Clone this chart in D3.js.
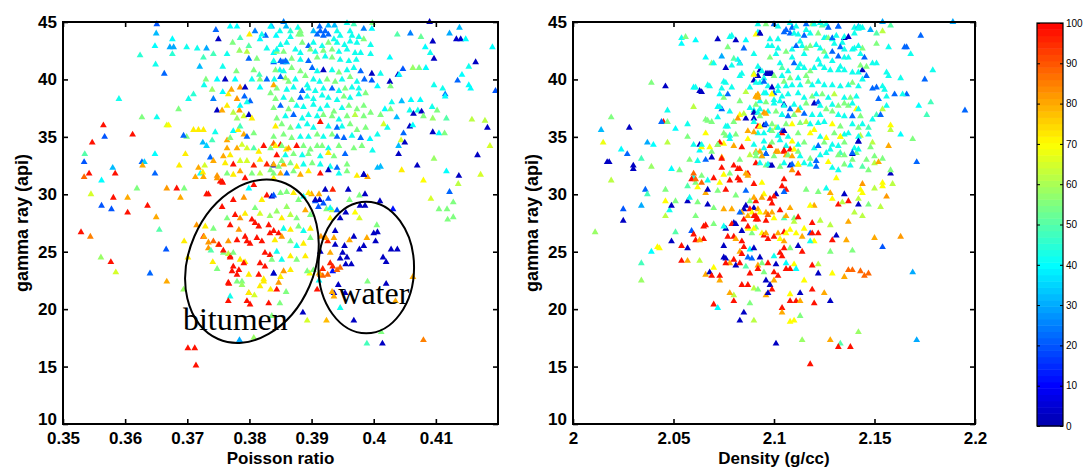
<!DOCTYPE html>
<html>
<head>
<meta charset="utf-8">
<script src="https://cdn.jsdelivr.net/npm/d3@7"></script>
<style>
  body { margin: 0; background: #fff; }
  text { font-family: "Liberation Sans", Arial, sans-serif; }
</style>
</head>
<body>
<script>
// tick values
const gammaTicks = [10, 15, 20, 25, 30, 35, 40, 45];
const poissonTicks = [0.35, 0.36, 0.37, 0.38, 0.39, 0.4, 0.41];
const densityTicks = [2, 2.05, 2.1, 2.15, 2.2];
const colorTicks = [0, 10, 20, 30, 40, 50, 60, 70, 80, 90, 100];

// [poisson ratio, gamma ray, colour value]
const poissonPts = [
[0.3651,44.8,20],[0.3650,44.0,32],[0.3648,42.9,40],[0.3649,41.3,42],[0.3663,40.5,22],[0.3624,42.1,45],[0.3676,43.5,40],[0.3672,42.8,30],[0.3678,42.8,30],[0.3676,42.2,45],
[0.3699,42.8,42],[0.3716,42.7,42],[0.3731,42.7,30],[0.3720,41.1,32],[0.3746,44.3,22],[0.3750,43.5,3],[0.3769,44.6,40],[0.3780,44.6,40],[0.3800,43.9,72],[0.3809,44.2,25],
[0.3826,43.8,22],[0.3817,43.5,40],[0.3836,44.6,30],[0.3855,45.0,25],[0.3859,44.6,32],[0.3849,44.2,42],[0.3866,44.2,45],[0.3878,44.5,42],[0.3883,43.9,55],[0.3903,44.2,32],
[0.3913,44.6,22],[0.3927,44.7,32],[0.3937,44.7,32],[0.3957,44.9,42],[0.3968,44.8,48],[0.3984,44.4,25],[0.3997,44.4,40],[0.3998,44.9,55],[0.4090,45.0,3],[0.4038,43.9,50],
[0.4059,44.0,25],[0.4076,43.7,52],[0.4122,44.0,30],[0.4138,44.5,32],[0.4133,43.5,4],[0.4140,43.5,4],[0.4148,43.5,40],[0.4191,42.8,40],[0.4095,43.3,3],[0.4083,42.8,40],
[0.4091,42.3,42],[0.4097,41.8,3],[0.4084,41.0,40],[0.4073,41.0,55],[0.4063,41.0,58],[0.4047,40.9,20],[0.4039,40.4,3],[0.4026,41.9,40],[0.4011,40.5,42],[0.3997,40.5,3],
[0.3997,39.9,20],[0.4006,39.4,40],[0.4026,39.8,3],[0.4027,39.4,55],[0.4041,40.4,40],[0.4075,38.2,40],[0.4097,39.5,42],[0.4111,39.2,42],[0.4115,38.7,25],[0.4115,38.5,40],
[0.4135,39.9,22],[0.4153,39.5,40],[0.4156,39.2,40],[0.4164,41.5,3],[0.4153,41.1,42],[0.4142,40.4,40],[0.4196,39.0,20],[0.4060,38.2,40],[0.4045,38.1,32],[0.4029,38.0,42],
[0.4071,37.3,42],[0.4058,37.3,42],[0.4077,37.2,3],[0.4064,37.0,3],[0.4080,36.8,55],[0.4094,37.6,42],[0.4102,37.3,55],[0.4095,36.6,58],[0.4117,36.6,50],[0.4158,36.5,62],
[0.4179,36.4,62],[0.4183,35.8,3],[0.4058,35.9,3],[0.4063,36.0,40],[0.4048,35.3,22],[0.4095,35.4,3],[0.4105,35.3,40],[0.4114,35.3,55],[0.4044,34.7,65],[0.4050,34.5,3],
[0.4040,34.2,32],[0.4040,33.5,3],[0.4011,36.9,55],[0.4018,37.4,40],[0.4027,37.4,55],[0.4037,36.7,32],[0.4016,36.1,65],[0.4022,35.8,42],[0.4006,35.2,42],[0.3998,33.8,42],
[0.3994,34.8,40],[0.4167,33.4,3],[0.4187,34.2,65],[0.4172,31.7,65],[0.4137,31.6,3],[0.4117,32.0,40],[0.4122,30.2,22],[0.4136,30.9,62],[0.4128,29.3,55],[0.4119,27.8,55],
[0.4105,28.7,55],[0.4118,28.7,55],[0.4128,28.0,55],[0.4092,29.6,65],[0.4080,31.2,70],[0.4070,32.5,3],[0.4045,32.1,72],[0.4097,33.1,58],[0.4006,32.3,32],[0.4011,32.4,32],
[0.3990,31.5,80],[0.3984,31.7,3],[0.4080,17.3,85],[0.4063,22.8,80],
[0.4010,29.4,3],[0.4031,28.7,12],[0.3978,29.0,3],[0.3986,29.0,3],[0.3986,30.0,3],[0.3977,29.9,55],[0.3959,30.4,3],[0.3961,29.5,55],[0.3970,28.4,70],[0.3977,27.9,65],
[0.4005,27.3,55],[0.4006,26.7,3],[0.4000,26.6,3],[0.3989,26.2,80],[0.4003,25.9,3],[0.3968,26.3,3],[0.3961,26.0,80],[0.3953,25.5,3],[0.3984,25.5,3],[0.3977,25.2,3],
[0.4028,25.2,3],[0.4038,25.2,3],[0.4015,24.5,3],[0.4020,24.1,3],[0.3938,25.6,3],[0.3950,24.9,3],[0.3957,24.5,3],[0.3946,24.4,3],[0.3964,23.9,3],[0.3955,23.9,3],
[0.3938,26.8,3],[0.3946,27.9,3],[0.3914,25.0,3],[0.3930,24.9,80],[0.3934,23.3,12],[0.3941,23.4,88],[0.3946,23.6,88],[0.3930,24.0,96],[0.3934,23.7,96],[0.3926,23.0,88],
[0.3914,23.0,88],[0.3918,22.9,88],[0.3943,22.1,3],[0.4020,22.2,3],[0.3936,21.4,3],[0.3933,21.5,80],[0.3936,21.1,80],[0.3954,21.4,3],[0.3946,20.1,42],[0.3990,22.4,55],
[0.3968,19.0,3],[0.4012,18.0,55],[0.3989,17.0,48],[0.4014,17.0,3],[0.4035,20.7,80],[0.3924,19.0,78],[0.3893,19.0,65],[0.3886,19.7,3],[0.3909,21.7,98],[0.3912,22.5,40],
[0.3897,23.1,70],[0.3912,23.1,80],[0.3918,23.5,96],[0.3903,23.4,55],[0.3936,26.2,80],[0.3926,25.9,96],[0.3923,26.2,82],[0.3915,26.3,82],[0.3933,28.6,62],[0.3930,27.9,70],
[0.3924,28.7,55],[0.3913,29.5,3],[0.3906,29.4,20],[0.3900,30.0,80],[0.3934,30.4,96],[0.3922,30.4,3],[0.3912,30.0,80],[0.3927,29.6,20],
[0.3590,38.3,42],[0.3627,36.7,55],[0.3651,36.7,42],[0.3686,37.4,55],[0.3702,38.3,42],[0.3710,38.7,45],[0.3667,36.0,65],[0.3670,36.0,70],[0.3565,36.0,98],[0.3567,35.0,20],
[0.3547,34.5,98],[0.3535,33.5,50],[0.3534,32.8,20],[0.3542,31.8,98],[0.3534,31.5,88],[0.3545,30.0,65],[0.3562,29.0,20],[0.3578,28.7,20],[0.3581,29.7,98],[0.3584,31.8,98],
[0.3580,32.3,32],[0.3562,31.2,40],[0.3612,35.2,98],[0.3604,29.7,80],[0.3604,28.4,98],[0.3619,30.5,55],[0.3636,29.0,98],[0.3627,32.8,22],[0.3631,32.8,35],[0.3628,32.5,80],
[0.3648,33.5,40],[0.3648,31.8,22],[0.3650,28.0,80],[0.3655,26.9,50],[0.3529,26.7,98],[0.3544,26.3,85],[0.3667,30.5,82],[0.3683,30.5,98],[0.3695,30.5,55],[0.3687,32.5,72],
[0.3697,33.5,72],[0.3699,35.0,55],[0.3694,35.1,22],[0.3689,29.7,80],[0.3710,35.6,72],[0.3718,35.6,72],[0.3726,35.6,72],[0.3725,34.5,32],[0.3731,34.2,35],[0.3737,33.2,22],
[0.3721,31.8,40],[0.3725,31.9,72],[0.3728,32.5,65],[0.3726,31.5,80],[0.3713,31.5,80],[0.3718,32.3,80],[0.3734,30.0,98],[0.3748,31.6,82],[0.3753,31.1,98],[0.3757,31.0,98],
[0.3748,37.3,3],[0.3756,37.3,80],[0.3742,38.3,25],[0.3757,38.9,40],[0.3766,38.7,72],[0.3771,39.1,80],[0.3748,40.0,40],[0.3761,40.0,3],[0.3777,40.0,40],[0.3779,40.7,55],
[0.3780,38.3,82],[0.3784,37.3,82],[0.3785,37.7,40],[0.3792,38.5,22],[0.3801,38.1,22],[0.3796,38.0,42],[0.3785,39.3,82],[0.3793,39.3,3],[0.3804,40.0,42],[0.3817,40.0,55],
[0.3816,40.4,48],[0.3807,40.8,55],[0.3828,40.0,22],[0.3839,39.5,80],[0.3834,38.8,55],[0.3817,39.3,40],[0.3858,40.1,58],[0.3849,40.8,42],[0.3839,41.5,22],[0.3854,41.5,22],
[0.3860,41.5,30],[0.3839,42.3,40],[0.3844,42.4,55],[0.3828,42.7,42],[0.3812,41.8,55],[0.3799,41.8,22],[0.3796,42.4,62],[0.3799,42.9,50],[0.3784,42.5,58],[0.3785,43.6,48],
[0.3834,44.6,40],[0.3820,43.9,42],[0.3843,43.8,40],[0.3764,34.7,80],[0.3769,34.9,55],[0.3774,35.5,40],[0.3782,35.6,72],[0.3785,35.9,48],[0.3791,35.2,80],[0.3796,35.0,22],
[0.3807,35.3,55],[0.3780,36.6,58],[0.3791,36.8,65],[0.3799,36.9,3],[0.3804,36.6,72],[0.3764,34.0,80],[0.3769,33.4,72],[0.3780,34.0,80],[0.3788,34.3,65],[0.3796,34.0,65],
[0.3807,34.0,50],[0.3815,33.7,72],[0.3823,34.2,98],[0.3834,34.0,55],[0.3839,34.4,88],[0.3850,34.3,98],[0.3859,33.9,72],[0.3742,32.9,80],[0.3758,33.3,80],[0.3761,32.7,72],
[0.3774,32.6,98],[0.3785,32.9,65],[0.3796,32.9,65],[0.3807,32.5,96],[0.3817,33.0,72],[0.3828,32.6,96],[0.3838,32.5,3],[0.3847,32.4,55],[0.3855,32.6,80],[0.3764,31.8,55],
[0.3774,31.7,72],[0.3785,32.0,80],[0.3793,31.4,98],[0.3804,31.8,55],[0.3817,31.8,62],[0.3834,32.1,55],[0.3839,31.4,72],[0.3726,41.9,48],[0.3742,42.2,48],[0.3764,42.2,42],
[0.3773,43.2,55],[0.3757,41.1,42],[0.3730,40.0,55],[0.3740,39.1,58],[0.3727,39.5,42],[0.3764,37.7,72],[0.3774,37.1,62],[0.3745,35.4,42],[0.3740,34.7,48],
[0.3882,44.2,55],[0.3914,44.2,22],[0.3922,44.2,22],[0.3941,44.2,42],[0.3962,44.2,42],
[0.3866,43.7,42],[0.3879,43.9,55],[0.3909,43.9,22],[0.3919,43.8,22],[0.3927,43.9,22],[0.3936,43.5,42],[0.3946,43.8,42],[0.3965,43.8,42],[0.3976,43.7,42],[0.3984,43.5,55],
[0.3995,43.0,42],[0.3850,43.0,42],[0.3860,43.2,42],[0.3885,43.2,55],[0.3895,42.9,22],[0.3903,43.2,42],[0.3917,42.9,42],[0.3927,43.2,55],[0.3941,43.2,42],[0.3953,43.0,42],
[0.3962,43.3,42],[0.3973,43.2,42],
[0.3844,42.6,42],[0.3855,42.4,55],[0.3874,42.6,42],[0.3882,42.3,42],[0.3898,42.6,55],[0.3906,42.4,42],[0.3919,42.5,55],[0.3933,42.6,55],[0.3944,42.4,42],[0.3957,42.6,42],
[0.3970,42.3,42],[0.3979,42.3,42],[0.3995,42.2,42],[0.3839,41.6,42],[0.3850,41.6,22],[0.3858,41.6,22],[0.3868,41.8,55],[0.3882,41.7,42],[0.3895,41.6,22],[0.3909,41.9,55],
[0.3922,42.0,42],[0.3933,41.9,55],[0.3946,41.7,42],[0.3960,41.6,42],[0.3972,41.7,42],
[0.3842,40.8,55],[0.3855,40.7,42],[0.3868,41.0,55],[0.3882,40.7,55],[0.3890,40.3,55],[0.3901,41.0,22],[0.3909,40.7,42],[0.3919,40.8,3],[0.3933,40.8,42],[0.3944,40.6,55],
[0.3957,40.8,42],[0.3968,41.0,42],[0.3979,40.7,22],[0.3840,40.0,42],[0.3850,40.2,22],[0.3863,39.8,55],[0.3874,40.0,42],[0.3893,39.5,42],[0.3903,40.0,42],[0.3913,39.8,42],
[0.3925,40.0,55],[0.3938,39.8,55],[0.3949,40.0,42],[0.3962,40.2,55],[0.3973,39.8,42],[0.3985,40.0,22],
[0.3844,39.2,55],[0.3860,39.1,42],[0.3871,39.3,42],[0.3885,39.0,22],[0.3895,39.2,42],[0.3906,39.0,42],[0.3919,39.2,42],[0.3933,39.2,22],[0.3944,39.0,42],[0.3954,39.2,55],
[0.3965,39.3,42],[0.3976,39.2,42],[0.3987,38.8,55],[0.3842,38.3,55],[0.3855,38.4,42],[0.3868,38.2,55],[0.3882,38.4,22],[0.3893,38.5,42],[0.3903,38.3,42],[0.3917,38.6,42],
[0.3927,38.4,42],[0.3941,38.2,42],[0.3952,38.5,55],[0.3962,38.4,42],[0.3976,38.7,42],
[0.3839,37.5,55],[0.3850,37.7,22],[0.3863,37.4,55],[0.3876,37.7,42],[0.3887,37.6,42],[0.3903,37.8,42],[0.3914,37.4,42],[0.3925,37.7,42],[0.3936,37.2,55],[0.3949,37.5,42],
[0.3960,37.7,55],[0.3973,37.4,55],[0.3984,37.7,55],[0.3844,36.6,55],[0.3858,36.8,42],[0.3871,36.9,22],[0.3885,36.6,42],[0.3895,36.9,42],[0.3909,36.8,42],[0.3919,36.9,55],
[0.3933,36.8,55],[0.3944,36.5,42],[0.3957,36.8,55],[0.3970,36.9,62],[0.3984,36.8,55],[0.3995,37.1,55],
[0.3842,35.9,72],[0.3852,36.1,55],[0.3866,35.8,55],[0.3879,35.9,42],[0.3893,36.1,42],[0.3903,35.8,42],[0.3914,36.3,98],[0.3927,35.9,42],[0.3941,35.8,22],[0.3949,35.9,42],
[0.3962,36.1,55],[0.3973,35.6,55],[0.3987,35.8,55],[0.3839,35.0,55],[0.3855,35.2,55],[0.3868,34.9,55],[0.3882,35.0,42],[0.3895,35.0,42],[0.3909,35.2,55],[0.3919,35.0,42],
[0.3933,35.2,55],[0.3941,35.0,22],[0.3952,34.9,22],[0.3965,35.1,42],[0.3979,34.9,22],
[0.3842,34.2,72],[0.3852,34.2,55],[0.3863,34.0,80],[0.3876,34.2,98],[0.3887,34.2,55],[0.3898,33.9,55],[0.3909,34.2,55],[0.3917,34.2,55],[0.3927,34.0,42],[0.3944,34.2,55],
[0.3954,33.5,22],[0.3968,34.0,55],[0.3981,34.2,55],[0.3844,33.4,98],[0.3858,33.4,42],[0.3871,33.5,55],[0.3885,33.4,42],[0.3895,33.5,55],[0.3914,33.3,42],[0.3927,33.6,72],
[0.3936,33.3,55],
[0.3839,32.6,80],[0.3852,32.9,55],[0.3866,32.7,55],[0.3876,32.4,72],[0.3887,32.6,42],[0.3901,32.7,55],[0.3914,32.6,42],[0.3930,32.4,42],[0.3941,32.3,22],[0.3957,32.6,55],
[0.3839,31.8,55],[0.3850,31.8,80],[0.3860,31.8,22],[0.3871,32.0,55],[0.3882,31.7,80],[0.3895,32.0,72],[0.3914,31.8,98],[0.3927,32.1,3],[0.3944,31.8,42],[0.3957,32.0,55],
[0.3973,31.6,72],[0.3984,31.7,3],
[0.3756,31.1,98],[0.3748,31.4,82],[0.3731,30.0,98],[0.3774,29.5,98],[0.3791,29.7,82],[0.3799,30.5,40],[0.3807,30.8,98],[0.3820,29.5,72],[0.3828,29.9,98],[0.3836,29.8,3],
[0.3839,29.9,20],[0.3850,30.1,55],[0.3860,30.2,55],[0.3871,30.1,72],[0.3879,29.5,55],[0.3887,29.8,42],[0.3895,30.1,72],[0.3906,29.5,3],[0.3911,28.9,20],[0.3919,29.2,20],
[0.3930,28.8,42],[0.3941,28.6,20],[0.3955,28.4,3],[0.3756,28.9,98],[0.3764,27.9,55],[0.3777,28.2,98],[0.3785,27.9,82],[0.3793,28.3,72],[0.3809,28.8,55],[0.3817,28.3,65],
[0.3833,28.1,58],[0.3844,28.5,58],[0.3852,27.9,72],[0.3860,28.9,58],[0.3866,28.2,62],[0.3876,27.9,55],[0.3890,28.6,80],[0.3898,28.2,55],[0.3715,27.3,82],[0.3729,27.2,72],
[0.3742,27.0,55],[0.3769,27.3,98],[0.3783,26.9,82],[0.3804,27.8,98],[0.3809,27.5,98],[0.3815,27.2,98],[0.3831,27.3,98],[0.3839,26.8,98],[0.3847,26.6,98],[0.3855,27.0,42],
[0.3866,26.9,72],[0.3879,27.2,55],[0.3887,26.8,42],[0.3898,27.0,72],[0.3726,26.3,98],[0.3742,25.9,88],[0.3750,25.6,82],[0.3766,25.9,82],[0.3780,26.0,98],[0.3793,26.3,98],
[0.3796,25.9,98],[0.3801,25.7,98],[0.3812,26.2,98],[0.3820,25.9,98],[0.3833,26.6,98],[0.3841,26.0,72],[0.3852,26.3,82],[0.3866,25.9,55],[0.3876,25.5,42],[0.3887,25.7,72],
[0.3898,26.2,55],[0.3734,25.3,82],[0.3758,24.9,55],[0.3769,24.6,98],[0.3785,24.3,72],[0.3793,24.1,72],[0.3791,24.0,98],[0.3774,23.7,98],[0.3783,23.4,98],[0.3772,23.3,98],
[0.3780,23.0,98],[0.3766,22.3,98],[0.3788,22.4,55],[0.3799,23.0,72],[0.3815,23.0,98],[0.3817,24.0,98],[0.3825,24.9,98],[0.3833,24.7,98],[0.3825,23.7,98],[0.3823,22.4,72],
[0.3839,23.1,20],[0.3836,24.3,55],[0.3844,25.0,42],[0.3852,24.3,42],[0.3866,24.6,72],[0.3876,24.3,55],[0.3890,24.6,72],[0.3893,23.3,55],[0.3866,23.4,72],[0.3855,23.3,82],
[0.3847,22.3,82],[0.3799,21.4,82],[0.3769,21.1,42],
[0.3561,24.5,58],[0.3577,24.1,98],[0.3585,23.2,65],[0.3640,23.1,22],[0.3666,25.2,20],[0.3667,22.4,80],[0.3695,25.9,72],[0.3701,24.5,72],[0.3694,21.7,58],[0.3701,16.6,98],
[0.3712,16.6,98],[0.3714,15.1,98],[0.3727,26.3,80],[0.3734,25.8,82],[0.3738,25.1,50],[0.3741,24.1,72],[0.3748,23.5,55],[0.3751,25.6,98],[0.3758,25.1,98],[0.3766,24.8,62],
[0.3769,24.5,98],[0.3774,24.9,55],[0.3767,22.2,98],[0.3766,20.7,98],[0.3780,22.4,55],[0.3788,22.1,58],[0.3784,17.3,30],[0.3796,20.7,98],[0.3801,20.4,98],[0.3799,21.4,72],
[0.3808,21.2,65],[0.3817,22.0,72],[0.3807,17.5,58],[0.3823,22.6,72],[0.3831,20.5,98],[0.3834,21.7,72],[0.3839,23.1,3],[0.3836,19.4,55],[0.3844,21.7,98],[0.3850,22.8,72],
[0.3849,20.5,55],[0.3859,21.5,55]
];

// [density, gamma ray, colour value]
const densityPts = [
[2.011,26.7,58],[2.014,35.6,32],[2.015,34.5,68],[2.017,32.8,3],[2.018,32.8,3],[2.019,31.2,62],[2.019,36.7,55],[2.024,33.9,40],[2.027,33.5,22],[2.028,35.8,3],
[2.030,32.2,3],[2.030,32.5,3],[2.025,28.7,20],[2.025,27.7,3],[2.034,33.1,48],[2.036,30.4,22],[2.037,30.0,48],[2.034,29.0,30],[2.037,34.5,30],[2.040,34.3,40],
[2.039,32.4,58],[2.034,24.0,48],[2.034,22.5,58],[2.039,25.0,40],[2.042,25.4,70],[2.043,25.3,70],[2.039,39.7,55],[2.046,39.4,3],[2.045,36.3,98],[2.044,36.3,22],
[2.047,36.3,55],[2.047,37.3,42],[2.047,34.5,62],[2.046,30.4,55],[2.046,29.4,70],[2.046,28.1,62],[2.049,25.9,3],[2.049,32.2,40],[2.051,35.7,40],[2.051,29.4,55],
[2.048,28.6,42],[2.049,29.0,3],[2.051,26.7,50],[2.054,25.5,98],[2.054,24.2,98],[2.057,24.2,80],[2.057,25.3,3],[2.054,43.6,42],[2.056,43.7,55],[2.061,43.4,40],
[2.054,43.1,40],[2.057,35.0,55],[2.057,36.1,42],[2.053,32.1,55],[2.057,30.7,50],[2.057,29.4,3],[2.059,26.8,20],[2.060,26.5,98],[2.061,26.0,98],[2.060,31.5,42],
[2.060,31.8,88],[2.061,31.0,55],[2.064,31.0,88],[2.066,30.1,80],[2.063,34.3,3],[2.063,33.8,40],[2.064,34.1,70],[2.060,39.3,40],[2.063,39.0,3],[2.066,41.9,40],
[2.060,37.6,62],[2.066,36.5,55],[2.067,39.5,42],[2.066,27.3,98],[2.065,26.1,98],[2.063,26.0,80],[2.066,23.0,80],[2.063,24.2,62],[2.068,23.2,3],[2.069,22.9,98],
[2.070,20.4,98],[2.072,20.1,40],[2.070,23.6,70],[2.073,22.5,80],[2.073,22.9,98],[2.072,43.5,3],[2.074,42.0,30],[2.076,41.0,3],[2.069,41.4,55],[2.074,37.4,22],
[2.072,37.6,40],[2.073,38.7,40],[2.074,39.2,42],[2.077,38.7,22],[2.075,39.8,42],[2.077,42.8,55],[2.078,43.7,42],[2.079,43.8,42],[2.081,43.4,3],[2.085,42.7,22],
[2.082,41.7,40],[2.083,41.4,22],[2.086,43.4,40],[2.084,40.5,42],[2.090,40.5,55],[2.090,39.9,3],[2.092,40.3,3],[2.093,40.8,3],[2.096,40.5,3],[2.098,40.5,3],
[2.093,44.0,3],[2.092,44.1,40],[2.086,38.9,62],[2.088,39.3,42],[2.091,38.5,82],[2.092,38.5,82],[2.096,38.8,40],[2.099,38.7,70],[2.097,37.2,42],[2.095,37.1,82],
[2.093,37.4,42],[2.090,37.3,42],[2.086,36.6,3],[2.090,36.6,3],[2.092,35.9,98],[2.095,36.0,3],[2.098,35.6,42],[2.101,35.8,62],[2.104,35.5,22],[2.104,35.3,98],
[2.100,38.8,22],[2.105,37.8,3],[2.100,38.2,42],[2.104,36.9,42],[2.083,36.9,70],[2.082,36.6,82],[2.080,36.3,55],[2.077,35.9,42],[2.075,35.3,55],[2.078,34.8,42],
[2.075,34.4,70],[2.073,34.5,98],[2.072,34.3,80],[2.069,33.7,55],[2.069,33.2,3],[2.074,33.2,80],[2.080,32.5,98],[2.082,32.2,98],[2.083,32.2,98],[2.074,32.3,98],
[2.075,31.7,70],[2.078,31.8,55],[2.087,31.8,98],[2.086,31.8,80],[2.088,33.4,62],[2.091,33.7,80],[2.093,33.7,80],[2.096,33.5,3],[2.095,34.0,42],[2.098,34.2,96],
[2.101,33.7,82],[2.098,32.5,3],[2.096,32.5,55],[2.105,33.7,98],[2.108,32.5,3],[2.109,32.1,82],[2.112,31.8,98],[2.108,33.9,98],[2.106,33.4,80],[2.110,33.9,70],
[2.112,32.6,80],[2.105,31.3,98],[2.104,30.7,98],[2.106,30.4,98],[2.105,30.2,22],[2.101,30.0,3],[2.100,29.8,98],[2.098,29.6,98],[2.099,29.2,98],[2.095,30.0,70],
[2.094,29.7,80],[2.091,29.4,98],[2.088,29.4,55],[2.086,29.0,3],[2.085,28.7,3],[2.084,28.4,80],[2.090,28.8,3],[2.092,28.7,80],[2.088,28.7,98],[2.089,28.4,70],
[2.093,28.4,70],[2.096,28.4,80],[2.097,28.2,88],[2.099,28.4,80],[2.085,27.8,98],[2.090,28.1,98],[2.091,27.8,98],[2.092,27.8,98],[2.096,27.7,98],[2.100,27.9,70],
[2.103,28.6,98],[2.105,27.9,50],[2.106,28.1,80],[2.110,27.9,55],[2.112,28.0,98],[2.110,27.6,62],[2.108,28.8,80],[2.080,27.5,3],[2.076,27.0,3],[2.079,27.4,98],
[2.077,26.3,98],[2.080,26.3,98],[2.081,26.1,80],[2.084,26.8,3],[2.084,25.9,98],[2.085,25.4,98],[2.087,27.0,70],[2.089,26.6,55],[2.091,27.1,55],[2.094,26.6,70],
[2.095,26.4,98],[2.096,26.6,80],[2.097,26.1,98],[2.100,26.3,98],[2.102,26.6,80],[2.105,26.7,98],[2.106,26.6,70],[2.103,26.1,70],[2.105,25.9,80],[2.108,26.9,70],
[2.111,26.6,70],[2.114,26.3,80],[2.115,27.0,70],[2.118,26.6,20],[2.119,26.6,98],[2.122,26.6,98],[2.120,25.9,70],[2.118,25.9,42],[2.075,25.5,3],[2.075,24.5,3],
[2.076,24.4,3],[2.080,24.3,98],[2.078,24.0,80],[2.076,24.0,98],[2.081,23.8,3],[2.083,25.0,80],[2.084,24.8,98],[2.083,24.0,98],[2.086,23.7,50],[2.088,25.2,40],
[2.087,24.5,22],[2.089,24.4,22],[2.090,25.3,3],[2.093,24.5,3],[2.092,23.8,80],[2.094,24.0,55],[2.097,24.0,98],[2.100,24.6,42],[2.103,24.9,98],[2.104,24.6,98],
[2.101,23.9,3],[2.106,24.0,40],[2.105,25.3,98],[2.108,25.3,55],[2.112,25.5,3],[2.114,25.0,98],[2.110,23.9,70],[2.111,23.5,40],[2.106,23.5,98],[2.108,23.5,98],
[2.100,23.2,98],[2.102,22.9,98],[2.100,22.5,80],[2.096,22.5,3],[2.098,22.1,3],[2.092,23.5,98],[2.095,23.2,55],[2.088,23.1,98],[2.087,22.1,98],[2.084,22.1,98],
[2.090,21.8,62],[2.092,21.7,55],[2.096,21.2,80],[2.099,21.7,98],[2.097,21.4,3],[2.080,21.2,62],[2.078,21.4,80],[2.080,20.7,98],[2.088,20.5,55],[2.085,19.7,3],
[2.083,19.0,3],[2.090,19.0,62],[2.104,20.1,98],[2.104,19.7,80],[2.108,20.7,98],[2.108,21.3,70],[2.113,21.4,3],[2.111,20.7,98],[2.113,20.7,80],[2.115,22.5,70],
[2.108,18.9,70],[2.110,19.0,70],[2.113,19.4,55],[2.114,17.3,58],[2.101,17.0,3],[2.118,15.2,98],[2.119,21.7,98],[2.120,20.5,98],[2.122,23.1,3],[2.119,23.8,98],
[2.122,23.9,62],[2.125,21.4,80],[2.128,20.7,3],[2.128,25.0,55],[2.129,23.1,70],[2.129,26.0,98],[2.131,26.4,3],[2.128,27.3,62],[2.123,27.7,62],[2.119,27.5,98],
[2.120,29.0,80],[2.118,29.0,70],[2.116,30.4,55],[2.122,30.2,55],[2.126,30.5,42],[2.128,30.1,80],[2.129,29.6,70],[2.132,29.1,98],[2.135,30.0,3],[2.137,29.4,98],
[2.134,29.3,62],[2.131,31.4,70],[2.142,29.1,3],[2.143,30.4,70],[2.144,30.9,82],[2.144,30.1,70],[2.142,29.6,62],[2.140,28.4,62],[2.144,28.1,62],[2.147,29.1,55],
[2.156,29.8,82],[2.150,30.5,62],[2.154,30.7,70],[2.153,28.9,62],[2.137,27.6,80],[2.136,26.0,80],[2.139,25.1,55],[2.135,22.8,80],[2.137,23.4,88],[2.139,23.4,88],
[2.143,23.3,88],[2.145,22.9,88],[2.147,23.1,88],[2.150,26.2,80],[2.163,26.3,82],[2.154,25.4,20],[2.169,23.2,30],[2.171,17.3,30],[2.142,18.0,58],[2.128,17.3,80],
[2.133,17.0,50],[2.132,16.7,98],[2.138,16.7,98],[2.171,32.8,22],[2.158,31.8,3],[2.158,32.1,55],[2.154,31.0,70],[2.150,32.7,62],[2.152,32.8,80],[2.150,33.3,55],
[2.149,34.5,62],[2.154,33.1,55],[2.157,34.2,80],[2.158,35.6,62],[2.158,36.0,70],[2.163,35.2,40],[2.169,34.8,55],[2.172,37.7,40],[2.176,36.9,48],[2.178,38.0,48],
[2.179,40.8,42],[2.175,40.0,22],[2.173,43.8,22],[2.189,45.0,30],[2.195,37.3,22],[2.168,42.2,42],[2.165,42.8,22],[2.166,42.8,22],[2.157,42.8,42],[2.154,44.2,62],
[2.151,44.0,50],[2.154,45.0,30],[2.158,44.7,50],[2.151,43.1,55],[2.151,41.4,42],[2.156,40.6,42],[2.157,40.3,42],[2.163,40.1,42],[2.166,38.7,22],[2.164,38.7,42],
[2.160,38.7,22],[2.156,38.5,42],[2.155,39.1,42],[2.154,39.4,42],[2.151,39.3,22],[2.149,39.2,22],[2.152,38.3,22],[2.156,37.7,42],[2.154,37.4,62],[2.151,36.9,48],
[2.153,36.9,22],[2.149,36.5,42],[2.147,35.8,48],[2.144,36.1,42],[2.147,35.2,42],[2.143,35.1,62],[2.142,34.6,3],[2.140,34.0,42],[2.139,33.5,3],[2.138,32.5,42],
[2.135,35.2,42],[2.133,35.0,70],[2.133,33.6,48],[2.141,33.6,55],[2.148,34.1,55],[2.146,33.0,55],[2.147,32.1,55],[2.144,32.4,50],[2.159,30.9,62],[2.146,40.3,22],
[2.144,40.0,42],[2.144,40.8,3],[2.143,41.2,55],[2.146,41.1,55],[2.149,41.4,42],[2.145,41.9,22],[2.143,42.2,42],[2.140,42.7,42],[2.144,42.7,55],[2.140,44.5,42],
[2.142,44.6,30],[2.144,44.5,42],[2.148,44.3,30],[2.135,43.6,3],[2.134,43.2,42],[2.129,43.5,42],[2.126,43.6,42],[2.124,44.7,50],[2.126,44.8,42],[2.132,44.6,22],
[2.119,44.8,55],
[2.092,44.8,42],[2.096,44.8,55],[2.100,44.8,22],[2.102,44.6,42],[2.106,44.3,22],[2.108,44.9,42],[2.109,44.5,22],[2.111,44.6,42],[2.116,44.8,22],[2.116,44.3,42],
[2.120,44.8,42],[2.123,44.9,42],[2.127,44.5,22],[2.132,44.6,22],[2.142,44.5,42],[2.143,44.5,42],[2.091,43.9,70],[2.093,44.0,3],[2.098,43.5,42],[2.102,43.5,42],
[2.105,44.1,22],[2.108,44.0,22],[2.110,44.0,42],[2.112,43.9,42],[2.115,43.8,22],[2.118,44.0,42],[2.122,44.0,55],[2.125,43.6,42],[2.127,43.6,55],[2.129,43.6,22],
[2.131,43.8,42],[2.135,43.7,42],[2.137,43.7,3],[2.140,44.0,42],[2.142,44.4,42],
[2.090,42.2,42],[2.097,42.9,42],[2.099,42.9,42],[2.102,42.7,42],[2.106,42.4,55],[2.109,42.6,42],[2.111,42.9,22],[2.113,43.3,42],[2.114,42.9,42],[2.116,42.7,55],
[2.118,42.9,55],[2.121,43.0,42],[2.123,42.7,42],[2.125,42.4,55],[2.129,42.4,22],[2.133,42.8,22],[2.130,43.1,42],[2.135,42.6,42],[2.139,42.6,42],[2.142,42.9,42],
[2.098,41.9,55],[2.101,42.2,42],[2.109,41.9,42],[2.115,42.2,42],[2.122,41.7,42],[2.126,42.0,42],[2.129,41.6,42],[2.132,42.0,22],[2.135,41.9,42],[2.137,41.9,42],
[2.092,41.1,42],[2.094,40.7,42],[2.097,40.5,3],[2.099,40.5,3],[2.103,41.4,42],[2.104,41.0,50],[2.107,40.7,42],[2.110,41.4,22],[2.112,41.0,42],[2.113,41.3,42],
[2.115,41.0,42],[2.118,40.7,55],[2.120,41.0,42],[2.123,41.3,42],[2.125,41.0,42],[2.128,40.8,42],[2.132,40.8,42],[2.133,41.1,42],[2.135,40.8,42],[2.139,40.6,42],
[2.142,40.6,42],[2.090,40.4,70],[2.095,40.1,42],[2.100,40.3,55],[2.104,40.3,42],[2.108,40.1,55],[2.112,40.1,42],[2.116,40.3,55],
[2.091,39.7,42],[2.093,39.7,42],[2.095,39.8,22],[2.097,39.4,42],[2.099,39.3,3],[2.102,39.4,42],[2.105,39.8,55],[2.106,39.4,42],[2.109,39.5,42],[2.113,39.5,42],
[2.117,39.8,55],[2.119,39.5,42],[2.122,39.8,42],[2.125,39.5,42],[2.129,39.5,42],[2.133,39.4,42],[2.137,39.5,42],[2.139,39.7,55],[2.142,39.4,42],[2.091,38.5,80],
[2.092,38.7,80],[2.095,38.8,42],[2.099,38.7,70],[2.102,39.0,42],[2.104,38.5,42],[2.107,38.7,42],[2.112,38.8,42],[2.115,38.4,42],[2.119,38.5,55],[2.121,38.7,42],
[2.124,38.7,55],[2.127,38.4,42],[2.130,38.7,62],[2.135,38.4,42],[2.138,38.4,55],[2.141,38.5,42],
[2.091,37.8,55],[2.093,38.1,42],[2.096,38.0,55],[2.100,37.9,42],[2.103,38.1,42],[2.105,37.7,42],[2.108,37.4,22],[2.110,37.8,42],[2.113,37.5,42],[2.116,37.9,55],
[2.120,37.9,3],[2.122,38.0,22],[2.123,37.7,42],[2.126,37.4,55],[2.129,37.8,42],[2.132,37.7,55],[2.135,37.9,55],[2.137,37.7,55],[2.139,37.9,42],[2.141,37.4,70],
[2.142,37.4,42],[2.090,37.1,3],[2.092,37.1,42],[2.096,37.0,80],[2.101,37.2,55],[2.104,36.9,42],[2.107,36.8,22],[2.110,36.9,55],[2.112,37.3,80],[2.115,37.0,22],
[2.119,36.9,42],[2.123,36.9,42],[2.129,37.2,55],[2.132,36.9,42],[2.135,36.8,42],[2.139,36.8,22],[2.143,36.8,55],
[2.090,36.3,42],[2.093,35.9,70],[2.096,36.1,22],[2.099,36.1,55],[2.102,35.8,42],[2.105,35.5,3],[2.106,36.1,55],[2.109,36.1,70],[2.113,36.2,55],[2.116,36.3,62],
[2.118,36.1,42],[2.122,36.2,42],[2.125,36.3,42],[2.129,36.1,70],[2.133,35.9,55],[2.139,36.1,42],[2.142,35.8,55],[2.092,35.3,42],[2.095,35.3,42],[2.099,35.5,55],
[2.102,35.1,42],[2.107,35.0,42],[2.112,35.3,55],[2.118,35.3,70],[2.120,35.6,70],[2.123,35.0,42],[2.126,34.9,70],[2.130,35.3,55],[2.133,35.0,70],[2.137,35.3,42],
[2.142,35.0,42],
[2.090,34.3,42],[2.095,34.6,42],[2.099,34.5,55],[2.103,34.7,42],[2.106,34.2,42],[2.109,34.6,70],[2.112,34.3,42],[2.115,34.5,55],[2.120,34.0,42],[2.122,34.2,22],
[2.125,34.5,55],[2.129,34.3,42],[2.132,34.2,42],[2.135,34.5,55],[2.142,34.6,3],[2.142,33.9,42],[2.091,33.3,55],[2.094,33.3,42],[2.096,33.5,22],[2.100,33.3,55],
[2.102,33.7,80],[2.105,33.8,98],[2.107,33.4,55],[2.109,33.3,80],[2.112,33.7,55],[2.113,33.3,42],[2.118,33.1,55],[2.121,32.9,22],[2.123,33.4,42],[2.126,33.6,42],
[2.128,33.9,42],[2.132,33.4,55],[2.135,33.4,55],[2.139,33.6,22],
[2.091,32.7,98],[2.093,32.7,42],[2.097,32.6,42],[2.099,32.5,3],[2.103,32.4,55],[2.105,32.7,42],[2.109,32.6,22],[2.112,32.6,70],[2.115,32.7,42],[2.118,32.6,42],
[2.121,32.4,22],[2.127,32.8,70],[2.129,32.3,42],[2.132,32.1,42],[2.135,32.6,55],[2.139,33.0,55],
[2.080,41.8,50],[2.083,41.4,42],[2.079,41.2,42],[2.083,40.3,42],[2.070,41.4,42],[2.079,39.3,42],[2.076,39.7,42],[2.068,39.4,42],[2.064,38.9,3],[2.061,39.3,42],
[2.075,38.4,55],[2.073,37.6,42],[2.078,37.2,42],[2.083,38.1,55],[2.088,37.5,42],[2.085,37.0,62],[2.092,38.4,80],[2.093,36.8,55],[2.067,36.4,55],[2.069,36.3,55],
[2.072,36.7,42],[2.076,35.9,42],[2.087,35.5,80],[2.090,35.4,80],[2.066,35.3,70],[2.076,35.1,55],[2.078,35.1,42],[2.081,35.2,55],[2.087,34.8,70],[2.060,34.3,42],
[2.064,34.3,42],[2.068,34.1,70],[2.072,34.3,55],[2.080,34.2,80],[2.084,34.1,98],[2.091,33.6,55],[2.094,33.3,80],[2.058,33.0,55],[2.062,32.9,42],[2.066,33.0,22],
[2.074,33.1,98],[2.083,33.0,55],
[2.059,31.3,98],[2.061,31.3,88],[2.064,31.6,55],[2.067,31.2,42],[2.070,31.4,98],[2.073,31.0,70],[2.078,31.2,98],[2.082,31.4,98],[2.083,31.2,98],[2.087,31.6,80],
[2.090,30.9,98],[2.094,31.0,70],[2.062,30.6,70],[2.067,30.4,3],[2.072,30.3,55],[2.076,30.4,98],[2.081,29.9,55],[2.086,30.3,22],[2.090,29.7,80],[2.058,29.7,42],
[2.062,29.3,55],[2.067,29.1,3],[2.070,28.8,55],[2.075,28.7,80],[2.079,28.7,80],[2.083,28.4,22],[2.087,28.1,80],[2.091,28.1,98],[2.061,28.1,55],[2.065,27.2,98],
[2.070,27.4,55],[2.075,27.2,42],[2.081,27.4,3],[2.087,27.2,98],[2.090,27.0,70]
];

// annotated zones on the Poisson panel, centre and label anchor in data units
const zoneNames = ["bitumen", "water"];
const zoneCentre = [[0.3804, 24.17], [0.3988, 23.63]];
const zoneLabelAt = [[0.3693, 18.2], [0.3943, 20.45]];

const W = 1086, H = 468;
const plotTop = 22, plotBottom = 424;

const svg = d3.select("body").append("svg")
    .attr("width", W).attr("height", H)
    .style("display", "block");
svg.append("rect").attr("width", W).attr("height", H).attr("fill", "#fff");

// jet colormap; the colour axis runs a little beyond 0..100 like the original
function jet(t) {
    const f = x => Math.max(0, Math.min(1, 1.5 - Math.abs(4 * t - x)));
    return d3.rgb(255 * f(3), 255 * f(2), 255 * f(1)).formatHex();
}
const colorOf = v => jet((v + 5) / 120);

const marker = d3.symbol().type(d3.symbolTriangle).size(20)();
const fmt = d => String(+d.toFixed(2));

function panel(left, right, domain, ticks, pts, xlabel, ylabelX) {
    const x = d3.scaleLinear().domain(domain).range([left, right]);
    const y = d3.scaleLinear().domain([10, 45]).range([plotBottom, plotTop]);
    const g = svg.append("g");

    g.append("g").selectAll("path")
        .data(pts)
        .enter()
        .append("path")
        .attr("d", marker)
        .attr("transform", d => "translate(" + x(d[0]) + "," + y(d[1]) + ")")
        .attr("fill", d => colorOf(d[2]));

    g.append("g").attr("transform", "translate(0," + plotBottom + ")")
        .call(d3.axisBottom(x).tickValues(ticks).tickFormat(fmt).tickSizeInner(-5).tickSizeOuter(0).tickPadding(8));
    g.append("g").attr("transform", "translate(0," + plotTop + ")")
        .call(d3.axisTop(x).tickValues(ticks).tickFormat("").tickSizeInner(-5).tickSizeOuter(0));
    const yAxis = g.append("g").attr("transform", "translate(" + left + ",0)")
        .call(d3.axisLeft(y).tickValues(gammaTicks).tickSizeInner(-5).tickSizeOuter(0).tickPadding(6));
    g.append("g").attr("transform", "translate(" + right + ",0)")
        .call(d3.axisRight(y).tickValues(gammaTicks).tickFormat("").tickSizeInner(-5).tickSizeOuter(0));

    // the lowest y label sits just above the x labels, as in the original
    yAxis.selectAll(".tick text").filter(d => d === 10).attr("dy", "0.05em");

    g.selectAll(".domain").remove();
    g.selectAll(".tick line").attr("stroke", "#000").attr("stroke-width", 1.6);
    g.selectAll(".tick text")
        .attr("fill", "#000")
        .style("font-family", "'Liberation Sans', Arial, sans-serif")
        .style("font-size", "17px")
        .style("font-weight", "bold");

    g.append("rect")
        .attr("x", left).attr("y", plotTop)
        .attr("width", right - left).attr("height", plotBottom - plotTop)
        .attr("fill", "none").attr("stroke", "#000").attr("stroke-width", 2);

    g.append("text")
        .attr("x", (left + right) / 2).attr("y", 464)
        .attr("text-anchor", "middle")
        .style("font-size", "17px").style("font-weight", "bold")
        .text(xlabel);

    g.append("text")
        .attr("transform", "translate(" + ylabelX + "," + (plotTop + plotBottom) / 2 + ") rotate(-90)")
        .attr("text-anchor", "middle")
        .style("font-size", "18px").style("font-weight", "bold")
        .text("gamma ray (api)");

    return { x, y, g };
}

const pl = panel(63, 498, [0.35, 0.42], poissonTicks, poissonPts, "Poisson ratio", 28);
panel(573, 975, [2, 2.2], densityTicks, densityPts, "Density (g/cc)", 538);

// ellipses and their labels
const ellipseSize = [[62.7, 84.8, 23.5], [47.8, 65.8, 0]];
zoneNames.forEach((name, i) => {
    const ex = pl.x(zoneCentre[i][0]), ey = pl.y(zoneCentre[i][1]);
    pl.g.append("ellipse")
        .attr("cx", ex).attr("cy", ey)
        .attr("rx", ellipseSize[i][0]).attr("ry", ellipseSize[i][1])
        .attr("transform", "rotate(" + ellipseSize[i][2] + "," + ex + "," + ey + ")")
        .attr("fill", "none").attr("stroke", "#000").attr("stroke-width", 2);
    pl.g.append("text")
        .attr("x", pl.x(zoneLabelAt[i][0])).attr("y", pl.y(zoneLabelAt[i][1]))
        .style("font-family", "'Liberation Serif', 'Times New Roman', serif")
        .style("font-size", "32px")
        .text(name);
});

// colour bar
const cbLeft = 1037, cbRight = 1063;
const cbScale = d3.scaleLinear().domain([0, 100]).range([426, 23]);
const nBands = 64;
const cb = svg.append("g");
cb.selectAll("rect.band")
    .data(d3.range(nBands))
    .enter()
    .append("rect")
    .attr("class", "band")
    .attr("x", cbLeft)
    .attr("y", i => cbScale((i + 1) * 100 / nBands))
    .attr("width", cbRight - cbLeft)
    .attr("height", i => cbScale(i * 100 / nBands) - cbScale((i + 1) * 100 / nBands) + 0.5)
    .attr("fill", i => colorOf((i + 0.5) * 100 / nBands));

cb.append("g").attr("transform", "translate(" + cbRight + ",0)")
    .call(d3.axisRight(cbScale).tickValues(colorTicks).tickSizeInner(-3).tickSizeOuter(0).tickPadding(3));
cb.append("g").attr("transform", "translate(" + cbLeft + ",0)")
    .call(d3.axisLeft(cbScale).tickValues(colorTicks).tickFormat("").tickSizeInner(-3).tickSizeOuter(0));
cb.selectAll(".domain").remove();
cb.selectAll(".tick line").attr("stroke", "#000").attr("stroke-width", 1);
cb.selectAll(".tick text")
    .attr("fill", "#000")
    .style("font-family", "'Liberation Sans', Arial, sans-serif")
    .style("font-size", "10px");
cb.append("rect")
    .attr("x", cbLeft).attr("y", 23)
    .attr("width", cbRight - cbLeft).attr("height", 403)
    .attr("fill", "none").attr("stroke", "#000").attr("stroke-width", 1.2);
</script>
</body>
</html>
